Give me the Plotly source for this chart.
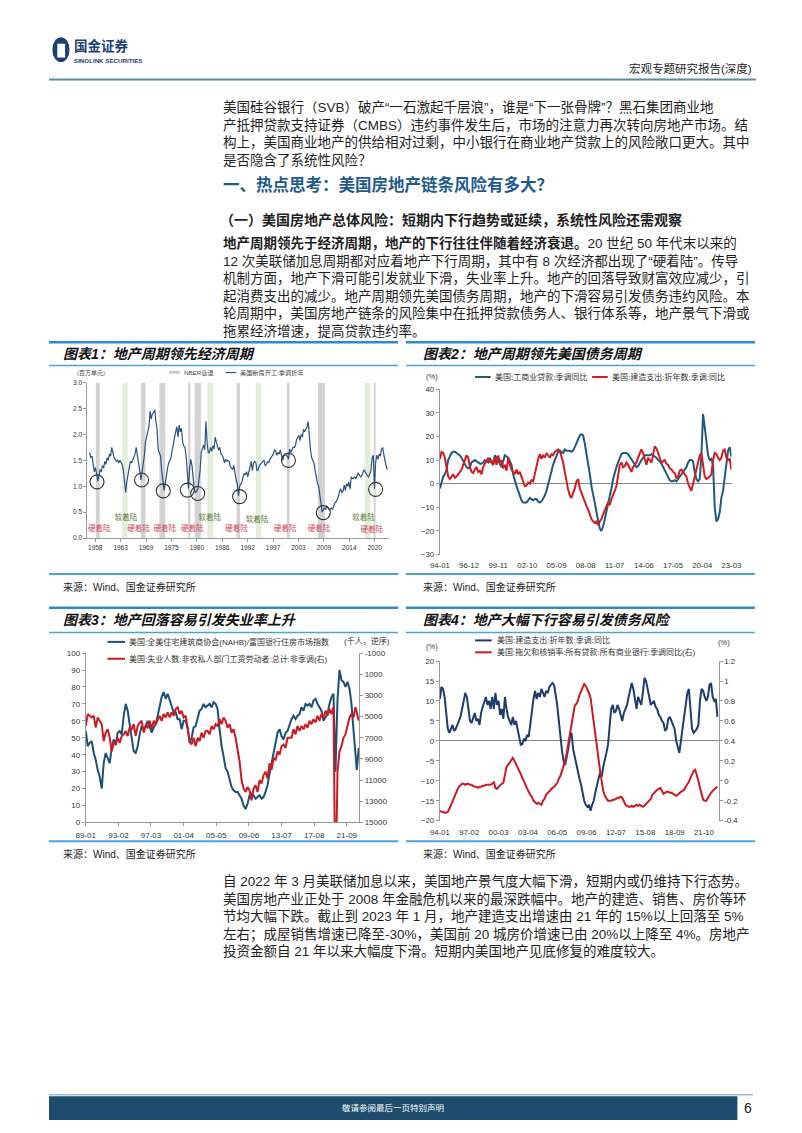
import plotly.graph_objects as go
import pandas as pd

W, H = 802, 1133
CJK = "Liberation Sans, Noto Sans CJK SC, sans-serif"
LAT = "Liberation Sans, Arial, sans-serif"

# ================= DATA =================
# Chart 1: US housing starts, SAAR (million units), quarterly from 1959Q1
housing_starts = [
    1.65, 1.55, 1.58, 1.42, 1.28, 1.36, 1.18, 1.10, 1.20, 1.32, 1.28, 1.40,
    1.35, 1.48, 1.42, 1.55, 1.50, 1.62, 1.58, 1.75, 1.65, 1.55, 1.52, 1.48,
    1.50, 1.45, 1.50, 1.46, 1.42, 1.30, 1.08, 0.88, 1.10, 1.22, 1.38, 1.48,
    1.45, 1.52, 1.58, 1.62, 1.75, 1.55, 1.45, 1.32, 1.12, 1.26, 1.40, 1.58,
    1.85, 1.98, 2.05, 2.15, 2.45, 2.30, 2.40, 2.42, 2.48, 2.25, 2.10, 1.70,
    1.62, 1.58, 1.30, 1.05, 0.92, 1.05, 1.25, 1.35, 1.45, 1.50, 1.55, 1.70,
    1.85, 1.95, 2.05, 2.15, 1.95, 2.18, 2.05, 2.12, 1.85, 1.78, 1.75, 1.58,
    1.25, 0.95, 1.35, 1.52, 1.40, 1.18, 0.95, 0.88, 0.90, 0.95, 1.10, 1.30,
    1.65, 1.75, 1.80, 1.70, 2.25, 1.85, 1.65, 1.65, 1.75, 1.68, 1.78, 1.72,
    1.95, 1.85, 1.78, 1.70, 1.75, 1.62, 1.60, 1.55, 1.45, 1.52, 1.48, 1.50,
    1.48, 1.38, 1.35, 1.32, 1.40, 1.20, 1.12, 1.05, 0.82, 1.00, 1.05, 1.08,
    1.18, 1.25, 1.22, 1.28, 1.18, 1.28, 1.32, 1.48, 1.30, 1.45, 1.48, 1.45,
    1.30, 1.32, 1.40, 1.42, 1.45, 1.48, 1.50, 1.40, 1.42, 1.48, 1.45, 1.52,
    1.55, 1.58, 1.62, 1.70, 1.68, 1.60, 1.65, 1.62, 1.70, 1.60, 1.50, 1.58,
    1.62, 1.60, 1.58, 1.52, 1.72, 1.65, 1.70, 1.75, 1.75, 1.78, 1.90, 1.95,
    1.98, 1.88, 2.00, 1.95, 2.10, 2.05, 2.10, 2.15, 2.25, 1.90, 1.70, 1.55,
    1.48, 1.45, 1.30, 1.15, 1.05, 1.00, 0.85, 0.65, 0.50, 0.55, 0.58, 0.55,
    0.62, 0.58, 0.55, 0.56, 0.58, 0.56, 0.62, 0.68, 0.70, 0.75, 0.80, 0.90,
    0.95, 0.88, 0.90, 1.02, 0.92, 1.05, 1.00, 1.08, 0.95, 1.18, 1.15, 1.15,
    1.18, 1.15, 1.20, 1.25, 1.22, 1.18, 1.20, 1.28, 1.32, 1.28, 1.22, 1.20,
    1.18, 1.25, 1.30, 1.55, 1.60, 0.95, 1.45, 1.60, 1.52, 1.62, 1.58, 1.70,
    1.75, 1.62, 1.48, 1.40, 1.32,
]
housing_dates = pd.date_range("1959-01-01", periods=len(housing_starts), freq="QS")

circle_dates = ["1960-08-01", "1970-03-01", "1974-11-01", "1980-01-01", "1982-04-01",
                "1991-04-01", "2001-10-01", "2009-04-01", "2020-07-01"]
circle_values = [1.085, 1.12, 0.91, 0.925, 0.86, 0.80, 1.50, 0.49, 0.94]

hard_dates = ["1961-02-01", "1969-07-01", "1975-03-01", "1981-02-01", "1990-08-01",
              "2001-02-01", "2008-05-01", "2019-09-01"]
hard_values = [0.17, 0.17, 0.17, 0.17, 0.17, 0.17, 0.17, 0.15]
soft_dates = ["1966-11-01", "1984-11-01", "1995-01-01", "2017-12-01"]
soft_values = [0.38, 0.38, 0.35, 0.38]

nber_start = ["1960-05-01", "1970-01-01", "1974-01-01", "1980-03-01", "1981-08-01",
              "1990-08-01", "2001-06-01", "2008-02-01", "2020-02-01"]
nber_end = ["1961-03-01", "1971-01-01", "1975-04-01", "1980-09-01", "1982-12-01",
            "1991-05-01", "2002-01-01", "2009-08-01", "2020-07-01"]
soft_start = ["1966-01-01", "1984-05-01", "1994-10-01", "2018-03-01"]
soft_end = ["1967-03-01", "1985-08-01", "1995-12-01", "2019-06-01"]

c1_tickvals = ["1960-03-15", "1965-08-28", "1971-02-15", "1976-08-03", "1982-01-22",
               "1987-07-08", "1992-12-24", "1998-06-13", "2003-11-28", "2009-05-18",
               "2014-11-03", "2020-04-20"]
c1_ticktext = ["1958", "1963", "1969", "1975", "1980", "1986", "1992", "1997",
               "2003", "2009", "2014", "2020"]

# Chart 2 / 4: bimonthly from 1994-01
ci_loans_yoy = [
    -2, 1, 3, 4, 6, 10, 12, 13, 13.5, 13.5,
    13, 12.5, 12, 11, 9.5, 8, 7, 6.5, 7, 9,
    9.5, 10, 9.5, 9, 8.5, 8.5, 9, 10, 9.5, 9,
    11, 9, 8, 12, 11, 10, 8.5, 7, 10, 12,
    11.5, 11, 9.5, 8, 4, 1, -1, -3, -5, -7,
    -8, -8, -8, -7, -6, -6.5, -7, -6.5, -6.5, -7.5,
    -8, -7.5, -6.5, -5, -3, 0, 3, 6, 8, 10,
    12, 13.5, 14, 13.5, 13, 14.5, 14, 14, 14, 13.5,
    14, 15.5, 17, 19, 20.5, 21, 20.5, 17, 13, 9,
    4, -1, -4, -8, -12, -16, -19, -20, -18, -15,
    -12, -9, -5, -2, 2, 5, 7, 9, 11, 12.5,
    13, 13, 13, 12.5, 11.5, 10, 9, 8, 7, 7.5,
    9, 10, 11, 12, 12, 12, 12, 12.5, 12, 11.5,
    11, 10, 9.5, 8.5, 7, 5.5, 4, 2.5, 1.5, 1,
    1, 1.5, 1, 2, 3, 4, 4.5, 6, 7, 9,
    10, 10, 9.5, 5, 2, 1, 2, 12, 29.5, 24,
    17, 12, 10, 10.5, 8, -10, -16, -15, -12, -6,
    -3, 3, 10, 14, 15.5, 11.5,
]
construction_yoy = [
    10.5, 13.5, 13, 11, 7, 3, 2, 3, 4, 2.5,
    3, 4, 5, 6, 8, 10, 12, 11, 7, 5,
    4.5, 6, 7, 5, 5.5, 4, 7, 8.5, 10, 11,
    9, 10, 8, 11, 8, 12, 9, 10, 6.5, 8,
    5.5, 11, 8, 6, 5, 4, 6, 4, 5, 2.5,
    1, -1, -0.8, 0.5, 0, 1.5, 1, 4, 8, 10.5,
    12.5, 10.5, 12, 11, 13, 12, 11, 12.5, 12, 13.5,
    14, 14.5, 14, 12, 9, 5, 1, -2.5, -5, -6,
    -4, -2, 1, 2, -2, -4, -6, -8, -9.5, -11,
    -13, -15, -16, -16.5, -16, -17.5, -16, -15, -13, -11,
    -9.5, -8, -9, -6.5, -5, -3, -1, 3, 8, 9,
    7, 7.5, 9, 8, 6, 5, 7, 8, 9, 11,
    13, 14.5, 13, 10, 8, 11, 10, 9, 12, 15.8,
    15, 12.5, 11, 9, 9.5, 10, 8.5, 8, 6.5, 6,
    5, 4.5, 2.5, 3, 5.5, 6, 5, 4, 3, 0,
    -2, -3, 0, 3, 6, 8, 12, 13, 8, 3,
    2, 2.5, 3, 4, 10, 13, 12.5, 11, 10, 11,
    14, 14.5, 11, 10, 10.5, 6,
]
delinquency_yoy = [
    -0.30, -0.31, -0.31, -0.32, -0.32, -0.31, -0.28, -0.24, -0.20, -0.16,
    -0.12, -0.09, -0.06, -0.04, -0.03, -0.03, -0.04, -0.03, -0.03, -0.04,
    -0.04, -0.05, -0.06, -0.06, -0.07, -0.06, -0.06, -0.05, -0.05, -0.04,
    -0.04, -0.04, -0.04, -0.03, -0.01, -0.07, -0.08, -0.06, -0.04, -0.03,
    -0.02, 0.05, 0.14, 0.16, 0.18, 0.20, 0.23, 0.20, 0.17, 0.14,
    0.11, 0.07, 0.03, -0.01, -0.04, -0.07, -0.11, -0.14, -0.16, -0.20,
    -0.22, -0.23, -0.22, -0.23, -0.24, -0.20, -0.18, -0.14, -0.12, -0.10,
    -0.09, -0.07, -0.06, -0.04, -0.02, 0.02, 0.05, 0.10, 0.15, 0.20,
    0.28, 0.38, 0.48, 0.58, 0.68, 0.75, 0.77, 0.80, 0.86, 0.90,
    0.95, 0.97, 0.95, 0.92, 0.88, 0.83, 0.70, 0.58, 0.45, 0.33,
    0.22, 0.10, 0.00, -0.10, -0.15, -0.18, -0.20, -0.20, -0.20, -0.19,
    -0.19, -0.18, -0.17, -0.17, -0.16, -0.17, -0.20, -0.24, -0.25, -0.26,
    -0.26, -0.25, -0.26, -0.25, -0.24, -0.25, -0.24, -0.25, -0.26, -0.25,
    -0.23, -0.21, -0.20, -0.18, -0.14, -0.12, -0.10, -0.09, -0.08, -0.07,
    -0.10, -0.13, -0.12, -0.11, -0.11, -0.12, -0.12, -0.13, -0.14, -0.15,
    -0.14, -0.12, -0.11, -0.10, -0.09, -0.06, -0.04, -0.01, 0.03, 0.07,
    0.10, 0.11, 0.06, 0.00, -0.07, -0.14, -0.19, -0.20, -0.20, -0.17,
    -0.14, -0.12, -0.10, -0.08, -0.07, -0.06,
]
bimonthly_dates = pd.date_range("1994-01-01", periods=len(construction_yoy), freq="2MS")

c2_tickvals = ["1994-01-01", "1996-12-01", "1999-11-01", "2002-10-01", "2005-09-01",
               "2008-08-01", "2011-07-01", "2014-06-01", "2017-05-01", "2020-04-01",
               "2023-03-01"]
c4_tickvals = ["1994-01-01", "1997-02-01", "2000-03-01", "2003-04-01", "2006-05-01",
               "2009-06-01", "2012-07-01", "2015-08-01", "2018-09-01", "2021-10-01"]

# Chart 3: quarterly from 1989-01 plus last readings
nahb_index = [
    54, 45, 47, 48, 41, 37, 31, 27, 20, 35,
    41, 38, 35, 44, 49, 46, 53, 54, 52, 63,
    70, 66, 57, 49, 42, 41, 45, 52, 57, 55,
    57, 60, 57, 53, 56, 58, 63, 69, 74, 77,
    73, 76, 72, 69, 65, 65, 61, 61, 55, 60,
    60, 56, 47, 50, 56, 57, 62, 66, 67, 70,
    68, 69, 70, 68, 71, 70, 67, 55, 45, 39,
    32, 30, 26, 21, 19, 18, 18, 16, 14, 10,
    8, 11, 16, 17, 16, 14, 15, 16, 14, 15,
    18, 22, 29, 35, 42, 46, 53, 55, 51, 49,
    53, 54, 58, 61, 63, 61, 63, 64, 68, 66,
    70, 69, 70, 68, 72, 73, 70, 68, 66, 60,
    62, 64, 70, 74, 76, 30, 72, 90, 84, 83,
    80, 83, 79, 70, 55, 38, 31, 44,
]
unemployed = [
    5880, 4760, 4920, 5080, 4920, 6040, 5080, 5400, 5720, 7320,
    6520, 6200, 7000, 8280, 7480, 7640, 7000, 7480, 6840, 6680,
    6360, 6840, 6040, 6200, 5720, 6840, 5880, 5560, 5400, 6520,
    5880, 6040, 5400, 6200, 5400, 5720, 5240, 4920, 5400, 4760,
    5080, 4600, 5080, 4600, 4920, 4280, 4120, 4760, 4440, 5080,
    4920, 6200, 7320, 7640, 7000, 7800, 7000, 7320, 6520, 7000,
    6360, 6360, 6680, 5880, 6200, 5720, 5880, 5240, 5720, 5080,
    5400, 6040, 5720, 6520, 6200, 7000, 7960, 9240, 11000, 11800,
    12120, 11640, 11960, 12920, 11800, 11480, 12120, 11000, 11320, 10520,
    10200, 10840, 9400, 10040, 8920, 9080, 8280, 8600, 7800, 7640,
    7960, 7000, 7000, 7000, 6200, 6680, 5880, 6360, 5880, 6200,
    5720, 6040, 5400, 5720, 5240, 5560, 4920, 5400, 4760, 5080,
    4440, 4920, 4280, 4760, 4120, 23000, 10200, 8280, 7800, 7000,
    6680, 5880, 5080, 4760, 5080, 4120, 4760, 5400,
]
c3_dates = list(pd.date_range("1989-01-01", periods=136, freq="QS").strftime("%Y-%m-%d")) \
    + ["2022-12-01", "2023-03-01"]
c3_tickvals = ["1989-01-01", "1993-02-01", "1997-03-01", "2001-04-01", "2005-05-01",
               "2009-06-01", "2013-07-01", "2017-08-01", "2021-09-01"]
c3_right_ticks = [-1000, 1000, 3000, 5000, 7000, 9000, 11000, 13000, 15000]
c4_right_ticks = [-0.4, -0.2, 0, 0.2, 0.4, 0.6, 0.8, 1.0, 1.2]
c4_right_text = ["-0.4", "-0.2", "0", "0.2", "0.4", "0.6", "0.8", "1", "1.2"]

# ================= TEXT =================
para1 = [
    "美国硅谷银行（SVB）破产“一石激起千层浪”，谁是“下一张骨牌”？黑石集团商业地",
    "产抵押贷款支持证券（CMBS）违约事件发生后，市场的注意力再次转向房地产市场。结",
    "构上，美国商业地产的供给相对过剩，中小银行在商业地产贷款上的风险敞口更大。其中",
    "是否隐含了系统性风险？",
]
heading = "一、热点思考：美国房地产链条风险有多大？"
subheading = "（一）美国房地产总体风险：短期内下行趋势或延续，系统性风险还需观察"
para2 = [
    "<b>地产周期领先于经济周期，地产的下行往往伴随着经济衰退。</b>20 世纪 50 年代末以来的",
    "12 次美联储加息周期都对应着地产下行周期，其中有 8 次经济都出现了“硬着陆”。传导",
    "机制方面，地产下滑可能引发就业下滑，失业率上升。地产的回落导致财富效应减少，引",
    "起消费支出的减少。地产周期领先美国债务周期，地产的下滑容易引发债务违约风险。本",
    "轮周期中，美国房地产链条的风险集中在抵押贷款债务人、银行体系等，地产景气下滑或",
    "拖累经济增速，提高贷款违约率。",
]
para3 = [
    "自 2022 年 3 月美联储加息以来，美国地产景气度大幅下滑，短期内或仍维持下行态势。",
    "美国房地产业正处于 2008 年金融危机以来的最深跌幅中。地产的建造、销售、房价等环",
    "节均大幅下跌。截止到 2023 年 1 月，地产建造支出增速由 21 年的 15%以上回落至 5%",
    "左右；成屋销售增速已降至-30%，美国前 20 城房价增速已由 20%以上降至 4%。房地产",
    "投资金额自 21 年以来大幅度下滑。短期内美国地产见底修复的难度较大。",
]

# ================= HELPERS =================
def fx(x):
    return x / W


def fy(y):
    return 1 - y / H


annotations = []
shapes = []


def txt(x, y, s, size, color="#1a1a1a", anchor="left", family=CJK):
    annotations.append(dict(x=fx(x), y=fy(y), xref="paper", yref="paper", text=s,
                            showarrow=False, xanchor=anchor, yanchor="middle",
                            align="left", font=dict(size=size, color=color, family=family)))


def block(x, first_y, lines, size, color="#1a1a1a"):
    # one multi-line annotation; plotly line height = 1.3 em
    lh = 1.3 * size
    cy = first_y + (len(lines) - 1) * lh / 2
    txt(x, cy, "<br>".join(lines), size, color)


def hline(x0, x1, y, color, w):
    shapes.append(dict(type="line", xref="paper", yref="paper", x0=fx(x0), x1=fx(x1),
                       y0=fy(y), y1=fy(y), line=dict(color=color, width=w)))


def rect(x0, x1, y0, y1, color):
    shapes.append(dict(type="rect", xref="paper", yref="paper", x0=fx(x0), x1=fx(x1),
                       y0=fy(y1), y1=fy(y0), fillcolor=color, line=dict(width=0)))


BLUE_LINE = "#2e8bc9"
BLUE_THIN = "#4aa3da"
TICK = "#333333"
AXIS = "#999999"
BODY = "#1e1e1e"

# ---------------- header ----------------
shapes.append(dict(type="circle", xref="paper", yref="paper", x0=fx(43.5), x1=fx(61),
                   y0=fy(58.5), y1=fy(33.5), fillcolor="#1c3f75", line=dict(width=0)))
shapes.append(dict(type="rect", xref="paper", yref="paper", x0=fx(48.5), x1=fx(56.5),
                   y0=fy(54), y1=fy(40), fillcolor="white", line=dict(width=0)))
txt(63.5, 42.5, "<b>国金证券</b>", 13.5, "#1c3f75")
txt(63.5, 56.5, "<b>SINOLINK SECURITIES</b>", 6.2, "#1c3f75", family=LAT)
txt(763, 65, "宏观专题研究报告(深度)", 11.5, "#222", anchor="right")
hline(40, 765, 76, "#5f8ca3", 2)

# ---------------- body text ----------------
block(216, 104, para1, 13.5, BODY)
txt(216, 182, "<b>" + heading + "</b>", 16.5, "#1f5a8c")
txt(213, 218, "<b>" + subheading + "</b>", 14, BODY)
block(216, 241.5, para2, 13.5, BODY)
block(216, 884, para3, 13.5, BODY)

# ---------------- chart frames ----------------
for (l, r) in [(40, 398), (406, 764)]:
    hline(l, r, 341, BLUE_LINE, 2.5)
    hline(l, r, 364.5, BLUE_THIN, 1.5)
    hline(l, r, 574.5, BLUE_THIN, 2)
    hline(l, r, 608.5, BLUE_LINE, 2.5)
    hline(l, r, 633.5, BLUE_THIN, 1.5)
    hline(l, r, 844, BLUE_THIN, 2)

txt(52, 353, "<b><i>图表1：地产周期领先经济周期</i></b>", 14, "#111")
txt(421, 353, "<b><i>图表2：地产周期领先美国债务周期</i></b>", 14, "#111")
txt(52, 621, "<b><i>图表3：地产回落容易引发失业率上升</i></b>", 14, "#111")
txt(421, 621, "<b><i>图表4：地产大幅下行容易引发债务风险</i></b>", 14, "#111")
for (x, y) in [(52, 588), (421, 588), (52, 857), (421, 857)]:
    txt(x, y, "来源：Wind、国金证券研究所", 10, "#222")

# chart 1 legend / unit
txt(83, 372, "(百万单元)", 6, "#444", anchor="center")
rect(163, 174, 369.8, 372.6, "#c8c8c8")
txt(176, 371.5, "NBER衰退", 6.2, "#444")
hline(221, 232, 371.5, "#2b5283", 1.2)
txt(234, 371.5, "美国新房开工:季调折年", 6.2, "#444")

# chart 2 legend / unit
txt(433, 375, "(%)", 7.5, "#333", anchor="center", family=LAT)
hline(477, 493, 376, "#1f5a7e", 2)
txt(495, 376, "美国:工商业贷款:季调同比", 8, "#333")
hline(597, 613, 376, "#d01c22", 2)
txt(615, 376, "美国:建造支出:折年数:季调:同比", 8, "#333")

# chart 3 legend / unit
hline(100, 118, 643, "#1b5078", 2)
txt(120, 643, "美国:全美住宅建筑商协会(NAHB)/富国银行住房市场指数", 8, "#333")
hline(100, 118, 660, "#cc1a22", 2)
txt(120, 660, "美国:失业人数:非农私人部门工资劳动者:总计:非季调(右)", 8, "#333")
txt(366, 642, "(千人，逆序)", 8, "#333", anchor="center")

# chart 4 legend / units
hline(477, 494, 641.5, "#1f3c6e", 2)
txt(497, 641.5, "美国:建造支出:折年数:季调:同比", 8, "#333")
hline(477, 494, 653.5, "#cc1a22", 2)
txt(497, 653.5, "美国:拖欠和核销率:所有贷款:所有商业银行:季调同比(右)", 8, "#333")
txt(433, 648, "(%)", 7.5, "#333", anchor="center", family=LAT)
txt(732, 644, "(%)", 7.5, "#333", anchor="center", family=LAT)

# ---------------- footer ----------------
hline(40, 762, 1099.5, "#9dbdd1", 1.5)
rect(40, 746, 1101, 1125, "#1e4c6d")
txt(393, 1113, "敬请参阅最后一页特别声明", 8.5, "white", anchor="center")
txt(757, 1113, "6", 14, "#222", anchor="center", family=LAT)

# chart 1 bands
for s, e in zip(nber_start, nber_end):
    shapes.append(dict(type="rect", xref="x", yref="y", x0=s, x1=e, y0=0, y1=3,
                       fillcolor="#d2d2d2", line=dict(width=0), layer="below"))
for s, e in zip(soft_start, soft_end):
    shapes.append(dict(type="rect", xref="x", yref="y", x0=s, x1=e, y0=0, y1=3,
                       fillcolor="#e3eed9", line=dict(width=0), layer="below"))

# ================= TRACES =================
fig = go.Figure()
fig.add_trace(go.Scatter(x=housing_dates, y=housing_starts, mode="lines",
                         line=dict(color="#2b5283", width=1.2), xaxis="x", yaxis="y"))
fig.add_trace(go.Scatter(x=circle_dates, y=circle_values, mode="markers",
                         marker=dict(symbol="circle-open", size=14, color="#333",
                                     line=dict(width=1.1)), xaxis="x", yaxis="y"))
fig.add_trace(go.Scatter(x=hard_dates, y=hard_values, mode="text",
                         text=["硬着陆"] * len(hard_dates),
                         textfont=dict(size=7.5, color="#d04a60", family=CJK),
                         xaxis="x", yaxis="y"))
fig.add_trace(go.Scatter(x=soft_dates, y=soft_values, mode="text",
                         text=["软着陆"] * len(soft_dates),
                         textfont=dict(size=7.5, color="#5a7a3c", family=CJK),
                         xaxis="x", yaxis="y"))

fig.add_trace(go.Scatter(x=bimonthly_dates, y=ci_loans_yoy, mode="lines",
                         line=dict(color="#1f5a7e", width=2), xaxis="x2", yaxis="y2"))
fig.add_trace(go.Scatter(x=bimonthly_dates, y=construction_yoy, mode="lines",
                         line=dict(color="#d01c22", width=2), xaxis="x2", yaxis="y2"))

fig.add_trace(go.Scatter(x=c3_dates, y=nahb_index, mode="lines",
                         line=dict(color="#1b5078", width=2), xaxis="x3", yaxis="y3"))
fig.add_trace(go.Scatter(x=c3_dates, y=unemployed, mode="lines",
                         line=dict(color="#cc1a22", width=2), xaxis="x3", yaxis="y4"))

fig.add_trace(go.Scatter(x=bimonthly_dates, y=construction_yoy, mode="lines",
                         line=dict(color="#1f3c6e", width=2), xaxis="x4", yaxis="y5"))
fig.add_trace(go.Scatter(x=bimonthly_dates, y=delinquency_yoy, mode="lines",
                         line=dict(color="#cc1a22", width=2), xaxis="x4", yaxis="y6"))


def dom_x(a, b):
    return [fx(a), fx(b)]


def dom_y(top, bottom):
    return [fy(bottom), fy(top)]


tf = lambda s: dict(size=s, color=TICK, family=LAT)
common = dict(showgrid=False, zeroline=False, linecolor=AXIS, linewidth=1,
              tickcolor=AXIS, ticklen=3)

layout = dict(
    width=W, height=H, margin=dict(l=0, r=0, t=0, b=0),
    paper_bgcolor="white", plot_bgcolor="rgba(0,0,0,0)", showlegend=False,
    annotations=annotations, shapes=shapes,
    # chart 1
    xaxis=dict(domain=dom_x(79.3, 389), anchor="y", type="date",
               range=["1958-07-01", "2023-06-12"], tickvals=c1_tickvals,
               ticktext=c1_ticktext, showline=True, ticks="outside",
               tickfont=tf(6.5), **common),
    yaxis=dict(domain=dom_y(381.7, 538.3), anchor="x", range=[0, 3], dtick=0.5,
               tickformat=".1f", showline=True, ticks="outside", tickfont=tf(6.5),
               **common),
    # chart 2
    xaxis2=dict(domain=dom_x(440.7, 740), anchor="y2", type="date",
                range=["1993-12-25", "2023-03-08"], tickvals=c2_tickvals,
                tickformat="%y-%m", showline=False, ticks="", tickfont=tf(7.8),
                ticklabelstandoff=5, **common),
    yaxis2=dict(domain=dom_y(388.3, 555), anchor="x2", range=[-30, 40], dtick=10,
                showline=True, ticks="outside", tickfont=tf(7.8),
                **{**common, "zeroline": True}, zerolinecolor="#888", zerolinewidth=1),
    # chart 3
    xaxis3=dict(domain=dom_x(77.7, 358), anchor="y3", type="date",
                range=["1989-01-01", "2023-03-15"], tickvals=c3_tickvals,
                tickformat="%y-%m", showline=True, ticks="outside", tickfont=tf(8),
                ticklabelstandoff=2, **common),
    yaxis3=dict(domain=dom_y(654.3, 825), anchor="x3", range=[0, 100], dtick=10,
                showline=True, ticks="outside", tickfont=tf(8), **common),
    yaxis4=dict(overlaying="y3", side="right", anchor="x3", range=[15000, -1000],
                tickvals=c3_right_ticks, ticktext=[str(v) for v in c3_right_ticks],
                showline=True, ticks="outside", tickfont=tf(8), **common),
    # chart 4
    xaxis4=dict(domain=dom_x(440.7, 726.7), anchor="y5", type="date",
                range=["1993-12-25", "2023-04-15"], tickvals=c4_tickvals,
                tickformat="%y-%m", showline=False, ticks="", tickfont=tf(7.8),
                ticklabelstandoff=5, **common),
    yaxis5=dict(domain=dom_y(662.3, 823.3), anchor="x4", range=[-20, 20], dtick=5,
                showline=True, ticks="outside", tickfont=tf(7.8),
                **{**common, "zeroline": True}, zerolinecolor="#888", zerolinewidth=1),
    yaxis6=dict(overlaying="y5", side="right", anchor="x4", range=[-0.4, 1.2],
                tickvals=c4_right_ticks, ticktext=c4_right_text,
                showline=True, ticks="outside", tickfont=tf(7.8), **common),
)
fig.update_layout(**layout)
fig.write_html("out.html")
